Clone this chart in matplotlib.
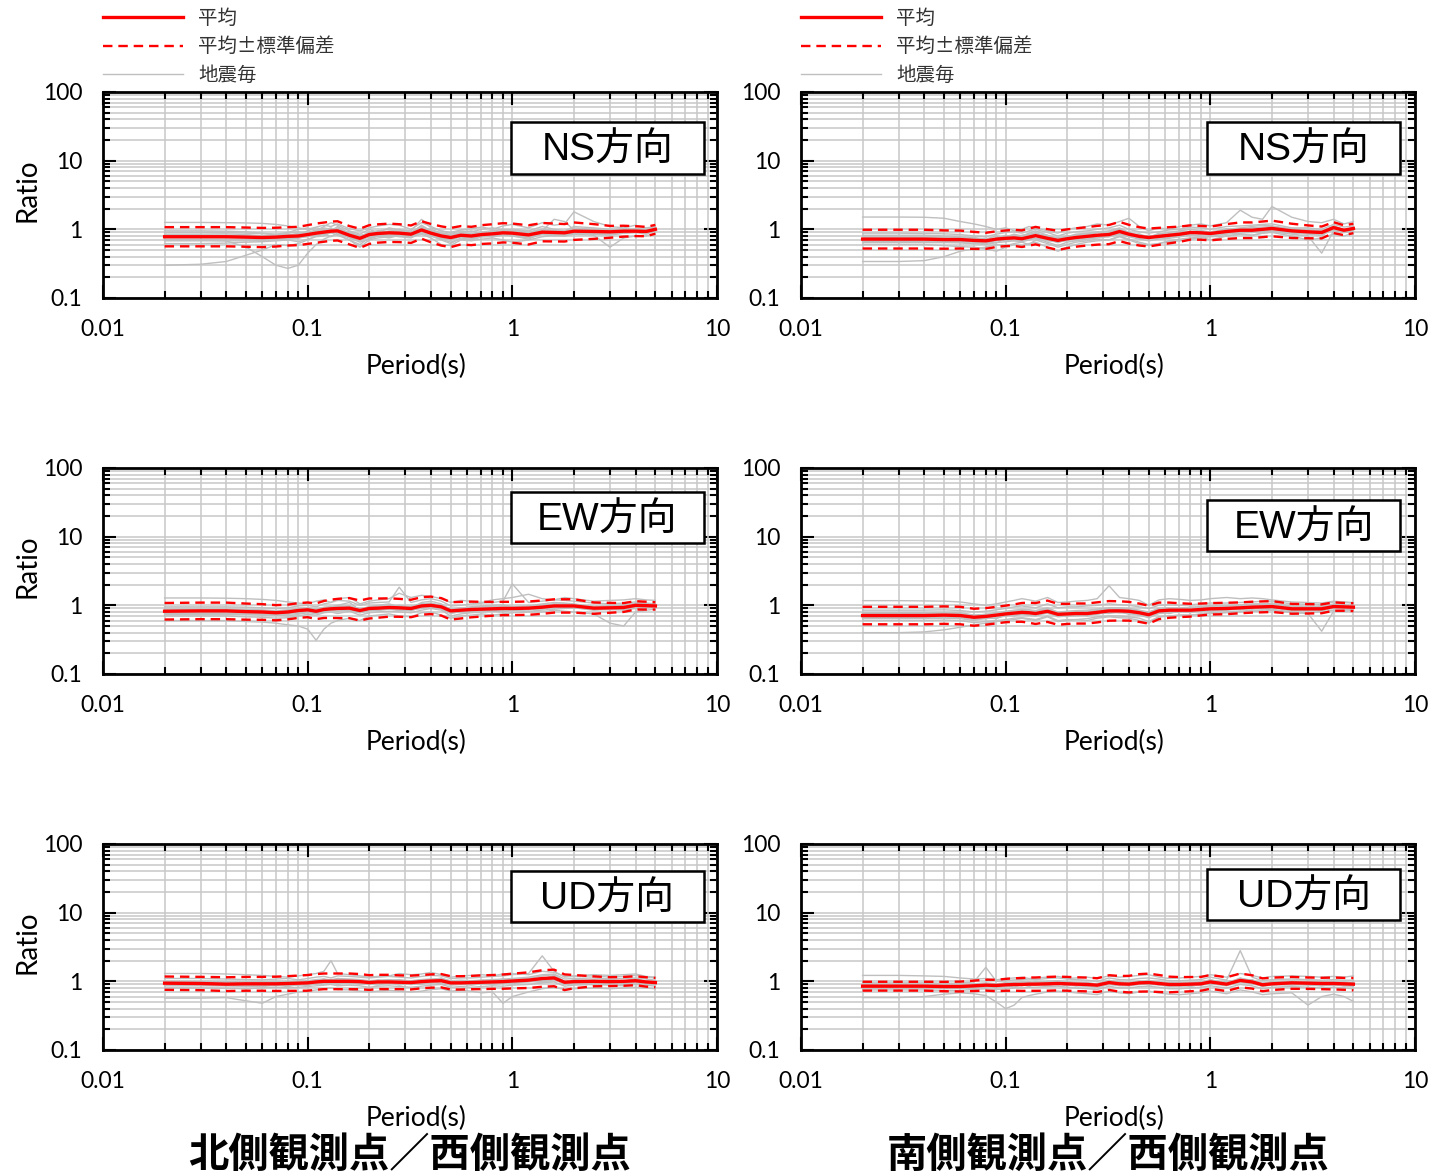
import numpy as np
import matplotlib.pyplot as plt
from matplotlib.lines import Line2D
from matplotlib.patches import Rectangle
from matplotlib.ticker import NullFormatter

plt.rcParams['font.family'] = ['Lato', 'Noto Sans CJK JP']

# 周期 (s)
period = [0.02, 0.03, 0.04, 0.05, 0.06, 0.07, 0.08, 0.09, 0.1, 0.11, 0.12, 0.13, 0.14, 0.16, 0.18, 0.2,
          0.22, 0.25, 0.28, 0.32, 0.36, 0.4, 0.45, 0.5, 0.56, 0.63, 0.71, 0.8, 0.9, 1.0, 1.2, 1.4, 1.6,
          1.8, 2.0, 2.5, 3.0, 3.5, 4.0, 4.5, 5.0]

# ---- 北側観測点／西側観測点 ----
ns_n_mean = [0.78, 0.78, 0.78, 0.77, 0.76, 0.77, 0.79, 0.80, 0.84, 0.88, 0.91, 0.94, 0.95, 0.82, 0.74, 0.84,
             0.87, 0.89, 0.88, 0.85, 0.98, 0.88, 0.80, 0.76, 0.82, 0.80, 0.84, 0.86, 0.89, 0.88, 0.83, 0.91,
             0.90, 0.89, 0.94, 0.93, 0.92, 0.94, 0.94, 0.93, 1.00]
ns_n_sd = [1.38, 1.38, 1.38, 1.38, 1.38, 1.37, 1.36, 1.36, 1.37, 1.38, 1.38, 1.38, 1.38, 1.36, 1.38, 1.37,
           1.36, 1.36, 1.35, 1.34, 1.34, 1.36, 1.38, 1.38, 1.36, 1.36, 1.37, 1.38, 1.38, 1.38, 1.38, 1.36,
           1.35, 1.34, 1.34, 1.28, 1.22, 1.20, 1.18, 1.17, 1.16]
# 地震毎 (%)
ns_n_eq = [
    [126, 126, 125, 124, 122, 118, 112, 105, 100, 108, 115, 110, 120, 102, 95, 105, 112, 118, 115, 100, 125, 110, 95, 90, 98, 102, 108, 100, 112, 118, 105, 125, 115, 120, 180, 130, 110, 105, 115, 105, 110],
    [30, 31, 34, 42, 50, 60, 58, 62, 70, 80, 85, 78, 88, 75, 65, 72, 80, 75, 82, 78, 90, 80, 70, 62, 75, 70, 78, 80, 85, 80, 72, 88, 85, 80, 90, 85, 82, 88, 90, 85, 95],
    [78, 78, 79, 80, 78, 75, 70, 85, 95, 105, 100, 92, 110, 85, 70, 90, 95, 100, 92, 88, 115, 95, 82, 78, 88, 85, 92, 95, 100, 98, 85, 100, 95, 92, 105, 100, 98, 102, 100, 98, 105],
    [70, 70, 68, 55, 40, 30, 27, 30, 45, 60, 72, 80, 85, 70, 60, 75, 80, 82, 78, 75, 90, 82, 72, 65, 72, 72, 78, 78, 82, 80, 75, 85, 80, 82, 88, 85, 85, 88, 90, 90, 95],
    [95, 95, 94, 92, 88, 85, 90, 100, 105, 95, 110, 125, 115, 95, 85, 100, 90, 105, 98, 95, 140, 105, 95, 88, 95, 92, 100, 105, 98, 100, 95, 110, 100, 95, 110, 105, 100, 98, 102, 100, 108],
    [62, 62, 63, 65, 66, 68, 70, 66, 72, 78, 80, 90, 82, 70, 55, 70, 75, 78, 82, 78, 85, 75, 60, 58, 70, 68, 72, 75, 70, 65, 70, 78, 82, 80, 85, 82, 55, 75, 80, 80, 88],
    [85, 85, 86, 84, 80, 82, 88, 92, 88, 95, 105, 100, 98, 92, 80, 88, 95, 92, 100, 90, 105, 100, 88, 85, 90, 95, 85, 92, 95, 100, 90, 95, 140, 130, 98, 90, 95, 100, 98, 95, 102],
    [82, 82, 82, 81, 80, 82, 86, 80, 90, 98, 95, 100, 105, 88, 78, 92, 85, 95, 90, 92, 110, 92, 85, 80, 86, 82, 90, 88, 95, 92, 88, 96, 92, 94, 98, 96, 95, 98, 96, 96, 100],
    [72, 72, 72, 72, 70, 72, 74, 76, 78, 85, 90, 88, 92, 78, 68, 80, 82, 85, 84, 80, 92, 84, 75, 70, 78, 76, 80, 82, 84, 82, 78, 86, 84, 84, 90, 88, 90, 92, 92, 92, 96],
    [90, 90, 90, 88, 86, 84, 82, 88, 84, 92, 98, 105, 92, 88, 82, 84, 92, 88, 95, 85, 100, 95, 88, 82, 88, 86, 90, 95, 92, 96, 92, 100, 96, 96, 100, 98, 96, 98, 98, 96, 104],
    [68, 68, 68, 68, 68, 70, 72, 74, 80, 82, 86, 92, 90, 76, 70, 78, 84, 80, 80, 82, 88, 80, 74, 72, 78, 74, 80, 80, 86, 84, 80, 86, 88, 86, 92, 90, 88, 90, 92, 90, 98],
]

ew_n_mean = [0.82, 0.83, 0.83, 0.81, 0.80, 0.78, 0.80, 0.84, 0.86, 0.82, 0.87, 0.89, 0.90, 0.91, 0.84, 0.90,
             0.91, 0.93, 0.92, 0.90, 0.98, 1.00, 0.95, 0.83, 0.85, 0.87, 0.88, 0.89, 0.90, 0.90, 0.91, 0.94,
             0.98, 0.98, 0.98, 0.91, 0.92, 0.93, 1.00, 0.99, 0.98]
ew_n_sd = [1.32, 1.32, 1.32, 1.31, 1.30, 1.29, 1.28, 1.28, 1.28, 1.30, 1.33, 1.36, 1.38, 1.40, 1.40, 1.40,
           1.38, 1.36, 1.35, 1.34, 1.34, 1.34, 1.34, 1.34, 1.32, 1.30, 1.28, 1.26, 1.25, 1.25, 1.25, 1.25,
           1.25, 1.25, 1.25, 1.21, 1.18, 1.16, 1.15, 1.14, 1.13]
ew_n_eq = [
    [128, 128, 127, 125, 122, 118, 112, 108, 105, 115, 120, 110, 125, 130, 105, 115, 120, 125, 150, 130, 140, 135, 125, 110, 118, 115, 110, 120, 125, 130, 145, 125, 120, 130, 125, 115, 118, 120, 125, 120, 118],
    [60, 60, 60, 58, 57, 55, 52, 50, 45, 31, 45, 55, 60, 65, 60, 70, 72, 75, 70, 68, 78, 80, 72, 65, 70, 72, 75, 72, 75, 78, 80, 80, 85, 82, 80, 75, 55, 50, 80, 85, 88],
    [82, 82, 83, 82, 80, 78, 80, 85, 88, 80, 90, 95, 100, 110, 85, 95, 100, 105, 95, 92, 110, 115, 105, 85, 90, 95, 98, 100, 102, 95, 98, 105, 110, 108, 105, 95, 98, 100, 105, 100, 98],
    [70, 70, 70, 68, 67, 65, 66, 70, 74, 72, 78, 80, 76, 82, 72, 78, 80, 82, 80, 78, 85, 90, 85, 70, 75, 78, 80, 82, 80, 85, 82, 85, 88, 90, 92, 85, 88, 85, 90, 92, 95],
    [95, 95, 95, 94, 92, 90, 92, 98, 100, 95, 105, 110, 118, 115, 100, 108, 110, 112, 184, 110, 120, 125, 115, 98, 100, 105, 108, 110, 115, 205, 110, 115, 120, 118, 115, 108, 105, 108, 112, 108, 105],
    [76, 76, 76, 75, 74, 72, 70, 74, 78, 76, 82, 85, 82, 86, 78, 84, 86, 88, 86, 84, 92, 95, 90, 78, 80, 82, 84, 86, 85, 88, 88, 92, 95, 95, 92, 88, 86, 88, 95, 96, 98],
    [88, 88, 88, 87, 86, 84, 86, 90, 92, 88, 94, 96, 92, 98, 88, 96, 98, 100, 98, 96, 105, 108, 100, 88, 92, 94, 96, 96, 98, 95, 96, 100, 105, 105, 102, 96, 98, 100, 108, 105, 102],
    [84, 84, 84, 82, 82, 80, 84, 88, 84, 86, 92, 88, 95, 98, 84, 94, 90, 98, 94, 96, 102, 100, 102, 82, 88, 86, 92, 90, 95, 90, 96, 94, 104, 98, 102, 92, 96, 94, 104, 98, 100],
    [78, 78, 79, 78, 76, 74, 76, 80, 86, 78, 84, 90, 86, 90, 80, 88, 86, 92, 88, 84, 96, 94, 92, 80, 80, 86, 84, 88, 86, 90, 86, 94, 92, 98, 94, 88, 90, 88, 98, 94, 96],
    [86, 86, 86, 85, 84, 82, 82, 90, 90, 88, 90, 94, 98, 96, 90, 92, 98, 96, 100, 92, 106, 104, 98, 88, 90, 92, 88, 94, 96, 94, 92, 100, 98, 104, 100, 96, 94, 98, 102, 104, 100],
    [74, 74, 74, 74, 72, 72, 74, 76, 82, 76, 82, 84, 88, 84, 78, 86, 84, 88, 84, 86, 90, 96, 88, 76, 82, 80, 86, 82, 88, 84, 88, 88, 96, 92, 96, 86, 90, 88, 96, 94, 96],
]

ud_n_mean = [0.94, 0.93, 0.91, 0.92, 0.92, 0.92, 0.93, 0.94, 0.95, 0.98, 1.00, 1.00, 1.00, 1.00, 0.99, 0.96,
             0.98, 0.98, 0.97, 0.96, 0.99, 1.01, 1.02, 0.95, 0.95, 0.96, 0.97, 0.98, 0.99, 1.01, 1.04, 1.10,
             1.12, 0.97, 0.99, 1.00, 0.99, 1.00, 1.02, 0.98, 0.96]
ud_n_sd = [1.25, 1.25, 1.26, 1.26, 1.26, 1.27, 1.28, 1.29, 1.30, 1.30, 1.30, 1.30, 1.30, 1.30, 1.29, 1.28,
           1.27, 1.27, 1.26, 1.26, 1.25, 1.25, 1.25, 1.25, 1.25, 1.25, 1.26, 1.26, 1.27, 1.28, 1.30, 1.32,
           1.32, 1.30, 1.25, 1.18, 1.16, 1.16, 1.16, 1.17, 1.17]
ud_n_eq = [
    [130, 130, 128, 125, 122, 118, 115, 120, 125, 130, 140, 200, 130, 125, 120, 115, 118, 120, 130, 125, 128, 135, 125, 115, 120, 122, 125, 120, 128, 130, 125, 140, 135, 118, 120, 125, 122, 125, 128, 118, 115],
    [57, 57, 58, 52, 48, 60, 65, 70, 72, 75, 78, 80, 76, 75, 72, 70, 72, 74, 72, 70, 72, 76, 78, 72, 74, 72, 68, 70, 48, 60, 70, 78, 82, 76, 78, 80, 78, 80, 82, 80, 78],
    [94, 94, 92, 90, 92, 95, 92, 90, 95, 100, 105, 100, 108, 105, 102, 98, 100, 102, 100, 98, 102, 105, 108, 98, 100, 98, 100, 102, 104, 108, 110, 120, 125, 100, 102, 105, 100, 102, 105, 100, 98],
    [80, 80, 79, 78, 80, 82, 80, 82, 84, 86, 88, 90, 86, 88, 86, 82, 85, 86, 84, 82, 85, 88, 90, 82, 84, 82, 84, 86, 85, 88, 90, 95, 98, 85, 88, 90, 88, 86, 90, 88, 85],
    [110, 110, 108, 106, 105, 108, 110, 105, 110, 115, 118, 112, 120, 118, 115, 112, 115, 118, 115, 112, 118, 122, 120, 110, 112, 112, 115, 118, 120, 125, 130, 235, 140, 115, 118, 120, 115, 118, 122, 115, 112],
    [88, 88, 87, 85, 86, 88, 86, 88, 90, 92, 95, 96, 94, 95, 94, 90, 92, 94, 92, 90, 94, 96, 98, 90, 92, 90, 92, 94, 95, 96, 98, 105, 108, 94, 96, 98, 96, 95, 98, 95, 92],
    [100, 100, 99, 98, 98, 100, 99, 100, 102, 106, 108, 105, 110, 108, 106, 102, 104, 106, 104, 102, 106, 108, 110, 102, 104, 102, 104, 106, 108, 110, 115, 125, 128, 108, 110, 112, 108, 110, 112, 108, 104],
    [96, 96, 94, 95, 92, 96, 90, 98, 92, 104, 98, 106, 96, 104, 100, 94, 104, 96, 102, 94, 104, 98, 108, 94, 100, 94, 102, 96, 104, 100, 110, 106, 118, 96, 104, 98, 104, 98, 106, 96, 100],
    [90, 90, 89, 88, 90, 86, 92, 88, 96, 90, 100, 94, 102, 92, 98, 90, 96, 92, 98, 90, 98, 94, 102, 90, 94, 90, 96, 92, 100, 96, 104, 100, 112, 90, 98, 94, 98, 94, 100, 92, 94],
    [98, 98, 97, 96, 98, 94, 100, 96, 102, 98, 108, 100, 110, 100, 106, 98, 104, 100, 106, 98, 106, 102, 112, 98, 102, 98, 104, 100, 108, 102, 112, 108, 122, 98, 106, 102, 106, 100, 110, 100, 100],
    [86, 86, 86, 85, 84, 88, 84, 90, 86, 94, 90, 98, 90, 98, 90, 92, 88, 96, 88, 94, 90, 98, 92, 88, 90, 88, 92, 90, 94, 92, 100, 96, 106, 90, 92, 90, 94, 90, 96, 90, 90],
]

# ---- 南側観測点／西側観測点 ----
ns_s_mean = [0.72, 0.72, 0.72, 0.71, 0.71, 0.69, 0.68, 0.72, 0.74, 0.75, 0.73, 0.77, 0.81, 0.74, 0.69, 0.73,
             0.76, 0.79, 0.82, 0.84, 0.93, 0.85, 0.79, 0.76, 0.79, 0.82, 0.85, 0.90, 0.89, 0.87, 0.93, 0.97,
             0.97, 1.00, 1.03, 0.95, 0.92, 0.90, 1.06, 0.97, 1.03]
ns_s_sd = [1.37, 1.37, 1.37, 1.36, 1.35, 1.33, 1.31, 1.30, 1.30, 1.31, 1.32, 1.33, 1.34, 1.36, 1.38, 1.37,
           1.36, 1.36, 1.37, 1.38, 1.38, 1.37, 1.36, 1.35, 1.33, 1.31, 1.29, 1.27, 1.26, 1.26, 1.28, 1.30,
           1.30, 1.30, 1.30, 1.27, 1.24, 1.22, 1.20, 1.18, 1.17]
ns_s_eq = [
    [151, 151, 150, 145, 130, 120, 110, 100, 105, 95, 100, 110, 105, 95, 88, 100, 105, 110, 120, 115, 130, 145, 110, 95, 105, 100, 110, 115, 120, 112, 125, 190, 150, 140, 215, 150, 130, 125, 140, 120, 130],
    [34, 34, 35, 40, 48, 52, 55, 60, 58, 62, 65, 60, 70, 62, 55, 60, 65, 68, 72, 70, 80, 72, 65, 60, 62, 68, 72, 75, 78, 70, 80, 85, 82, 88, 90, 80, 70, 75, 85, 80, 88],
    [72, 72, 72, 70, 68, 65, 62, 70, 78, 85, 80, 88, 95, 82, 70, 78, 85, 88, 92, 95, 105, 90, 80, 72, 85, 90, 95, 100, 95, 92, 100, 105, 110, 115, 112, 100, 95, 80, 110, 95, 100],
    [60, 60, 60, 58, 56, 55, 52, 48, 55, 60, 58, 62, 65, 55, 48, 55, 60, 65, 68, 70, 78, 70, 62, 58, 62, 66, 68, 72, 75, 78, 80, 85, 82, 88, 92, 85, 80, 45, 95, 90, 92],
    [88, 88, 87, 86, 84, 80, 78, 85, 90, 92, 88, 95, 100, 90, 80, 88, 92, 95, 100, 105, 115, 100, 92, 88, 92, 98, 100, 108, 105, 100, 110, 112, 115, 118, 120, 105, 105, 100, 118, 108, 112],
    [66, 66, 66, 65, 64, 62, 60, 64, 66, 68, 66, 70, 74, 65, 58, 65, 68, 72, 75, 78, 85, 78, 72, 68, 72, 74, 78, 82, 80, 80, 85, 88, 90, 92, 95, 88, 85, 82, 100, 90, 98],
    [80, 80, 80, 78, 76, 74, 70, 75, 80, 78, 82, 85, 88, 80, 75, 80, 82, 85, 90, 92, 100, 88, 82, 80, 82, 85, 88, 92, 95, 90, 95, 100, 105, 108, 110, 102, 98, 95, 108, 100, 105],
    [76, 76, 76, 75, 74, 72, 74, 72, 82, 76, 80, 78, 90, 74, 76, 72, 84, 80, 90, 84, 102, 84, 86, 76, 88, 82, 94, 88, 96, 86, 102, 96, 106, 98, 112, 94, 100, 90, 114, 96, 108],
    [68, 68, 68, 67, 66, 66, 62, 70, 68, 74, 68, 76, 74, 72, 64, 72, 70, 78, 76, 82, 86, 84, 74, 76, 74, 80, 80, 88, 84, 86, 86, 96, 90, 100, 94, 94, 86, 92, 98, 96, 96],
    [82, 82, 82, 80, 78, 76, 72, 80, 74, 82, 76, 84, 82, 82, 72, 80, 78, 86, 82, 90, 92, 90, 78, 82, 78, 86, 84, 94, 86, 92, 90, 100, 94, 104, 98, 100, 90, 96, 102, 102, 100],
    [64, 64, 64, 64, 64, 62, 66, 64, 72, 68, 70, 70, 80, 68, 66, 68, 76, 72, 82, 78, 92, 80, 78, 72, 80, 76, 86, 84, 90, 82, 92, 92, 100, 94, 104, 90, 94, 86, 108, 92, 104],
]

ew_s_mean = [0.71, 0.71, 0.71, 0.72, 0.71, 0.67, 0.69, 0.72, 0.75, 0.77, 0.79, 0.78, 0.76, 0.82, 0.74, 0.75,
             0.76, 0.76, 0.79, 0.83, 0.83, 0.82, 0.78, 0.73, 0.83, 0.85, 0.85, 0.85, 0.87, 0.89, 0.90, 0.92,
             0.94, 0.95, 0.96, 0.89, 0.89, 0.89, 0.96, 0.95, 0.94]
ew_s_sd = [1.34, 1.34, 1.34, 1.34, 1.34, 1.33, 1.32, 1.32, 1.32, 1.34, 1.37, 1.40, 1.42, 1.43, 1.42, 1.40,
           1.40, 1.40, 1.40, 1.39, 1.38, 1.37, 1.36, 1.35, 1.32, 1.29, 1.26, 1.24, 1.22, 1.21, 1.21, 1.20,
           1.20, 1.20, 1.20, 1.18, 1.17, 1.16, 1.15, 1.14, 1.14]
ew_s_eq = [
    [117, 117, 116, 115, 112, 105, 100, 105, 112, 118, 125, 120, 115, 130, 110, 112, 115, 118, 125, 193, 130, 125, 118, 100, 120, 125, 122, 118, 120, 125, 130, 125, 128, 125, 120, 112, 110, 108, 115, 112, 110],
    [40, 40, 41, 44, 48, 52, 55, 58, 60, 62, 65, 62, 60, 68, 58, 60, 62, 60, 65, 68, 66, 65, 60, 55, 68, 70, 72, 72, 75, 78, 80, 82, 85, 85, 88, 80, 78, 80, 85, 85, 88],
    [71, 71, 71, 72, 70, 65, 68, 72, 78, 82, 85, 82, 80, 90, 78, 80, 82, 80, 85, 90, 90, 88, 82, 75, 88, 90, 92, 92, 95, 98, 100, 102, 105, 105, 108, 98, 95, 95, 105, 102, 100],
    [60, 60, 60, 61, 60, 56, 58, 60, 62, 65, 66, 64, 62, 70, 60, 62, 62, 64, 68, 70, 70, 68, 65, 58, 68, 70, 72, 72, 74, 76, 78, 80, 82, 82, 85, 78, 76, 42, 82, 82, 84],
    [85, 85, 85, 86, 84, 80, 82, 86, 90, 95, 98, 95, 92, 105, 92, 95, 95, 98, 100, 105, 102, 100, 95, 90, 100, 102, 100, 102, 105, 108, 108, 110, 112, 115, 115, 105, 104, 102, 112, 110, 108],
    [66, 66, 66, 67, 66, 62, 64, 66, 70, 72, 74, 72, 70, 78, 68, 70, 70, 72, 75, 78, 78, 76, 72, 66, 76, 78, 80, 80, 82, 84, 85, 88, 90, 90, 92, 85, 84, 85, 90, 90, 90],
    [78, 78, 78, 79, 78, 72, 74, 78, 82, 85, 88, 86, 84, 92, 80, 82, 84, 85, 88, 92, 92, 90, 85, 80, 90, 92, 92, 94, 96, 98, 98, 100, 102, 104, 104, 96, 96, 95, 102, 100, 98],
    [74, 74, 74, 75, 74, 70, 74, 72, 80, 76, 86, 78, 82, 84, 80, 74, 82, 78, 86, 82, 90, 82, 84, 72, 90, 84, 92, 86, 94, 88, 96, 90, 100, 94, 102, 90, 96, 88, 100, 94, 98],
    [69, 69, 69, 70, 68, 66, 64, 72, 70, 78, 74, 80, 72, 82, 70, 76, 72, 78, 74, 84, 78, 84, 72, 74, 78, 84, 80, 86, 82, 90, 86, 92, 88, 96, 92, 88, 84, 90, 92, 96, 90],
    [76, 76, 76, 77, 76, 72, 72, 78, 78, 84, 82, 86, 80, 90, 76, 82, 78, 84, 82, 90, 86, 90, 80, 80, 86, 92, 86, 94, 90, 96, 92, 98, 96, 102, 98, 96, 92, 98, 98, 100, 96],
    [64, 64, 64, 65, 64, 60, 66, 64, 72, 70, 76, 72, 76, 76, 72, 68, 76, 70, 78, 76, 82, 74, 78, 66, 82, 76, 84, 78, 86, 82, 88, 86, 92, 88, 96, 82, 88, 82, 96, 88, 94],
]

ud_s_mean = [0.85, 0.85, 0.85, 0.84, 0.84, 0.86, 0.88, 0.87, 0.89, 0.90, 0.90, 0.91, 0.91, 0.92, 0.93, 0.92,
             0.91, 0.90, 0.88, 0.96, 0.92, 0.91, 0.95, 0.96, 0.93, 0.90, 0.90, 0.91, 0.92, 0.98, 0.91, 1.03,
             0.98, 0.89, 0.92, 0.95, 0.94, 0.93, 0.93, 0.92, 0.91]
ud_s_sd = [1.16, 1.16, 1.16, 1.17, 1.18, 1.19, 1.20, 1.21, 1.22, 1.23, 1.24, 1.25, 1.25, 1.26, 1.26, 1.26,
           1.26, 1.26, 1.26, 1.28, 1.30, 1.32, 1.34, 1.35, 1.33, 1.30, 1.28, 1.27, 1.26, 1.26, 1.26, 1.26,
           1.25, 1.24, 1.23, 1.22, 1.21, 1.21, 1.22, 1.22, 1.23]
ud_s_eq = [
    [122, 122, 120, 118, 112, 108, 110, 105, 110, 112, 115, 110, 112, 115, 118, 110, 112, 115, 110, 120, 115, 118, 122, 125, 115, 110, 112, 115, 118, 125, 115, 130, 122, 112, 118, 120, 118, 115, 118, 115, 120],
    [58, 58, 60, 65, 68, 66, 62, 50, 40, 45, 58, 62, 65, 70, 72, 70, 68, 66, 64, 72, 68, 66, 70, 72, 68, 65, 64, 66, 68, 72, 66, 75, 70, 64, 66, 68, 45, 60, 65, 60, 51],
    [85, 85, 85, 84, 84, 88, 92, 90, 92, 94, 95, 96, 95, 98, 100, 96, 94, 92, 90, 100, 95, 94, 98, 100, 96, 92, 92, 94, 96, 102, 94, 108, 102, 92, 96, 98, 96, 95, 96, 95, 94],
    [75, 75, 75, 74, 74, 76, 78, 76, 78, 80, 80, 82, 82, 84, 85, 82, 80, 78, 76, 85, 80, 80, 84, 85, 82, 78, 78, 80, 82, 86, 80, 90, 86, 78, 82, 84, 82, 80, 82, 80, 78],
    [95, 95, 95, 94, 94, 98, 160, 100, 102, 105, 106, 108, 106, 110, 112, 108, 106, 104, 100, 112, 106, 105, 110, 112, 108, 102, 102, 104, 106, 115, 104, 280, 115, 102, 106, 108, 106, 104, 106, 104, 104],
    [80, 80, 80, 79, 79, 82, 84, 82, 84, 86, 87, 88, 88, 90, 92, 88, 86, 85, 82, 90, 86, 86, 90, 92, 88, 85, 85, 86, 88, 92, 86, 98, 92, 85, 88, 90, 88, 86, 88, 86, 85],
    [90, 90, 90, 89, 89, 92, 95, 92, 95, 96, 97, 98, 97, 100, 102, 98, 96, 95, 92, 102, 98, 96, 100, 102, 98, 95, 95, 96, 98, 104, 96, 110, 104, 94, 98, 100, 98, 96, 98, 96, 95],
    [87, 87, 87, 86, 88, 84, 92, 86, 96, 88, 98, 90, 100, 90, 98, 90, 96, 88, 94, 96, 100, 90, 102, 94, 100, 88, 96, 88, 98, 96, 100, 104, 106, 88, 100, 94, 100, 92, 98, 92, 96],
    [82, 82, 82, 81, 80, 84, 82, 88, 84, 90, 86, 94, 88, 94, 88, 96, 86, 92, 84, 98, 88, 94, 90, 100, 88, 94, 86, 92, 88, 100, 88, 104, 94, 90, 88, 98, 90, 96, 90, 94, 88],
    [88, 88, 88, 87, 86, 90, 88, 92, 90, 94, 92, 96, 94, 98, 94, 100, 92, 96, 90, 104, 94, 96, 98, 104, 94, 96, 92, 94, 96, 106, 92, 112, 100, 94, 96, 100, 96, 98, 96, 98, 94],
    [80, 80, 80, 79, 80, 78, 86, 80, 88, 82, 90, 84, 92, 86, 92, 86, 90, 84, 88, 90, 94, 86, 96, 88, 92, 84, 90, 84, 92, 90, 92, 98, 98, 84, 92, 88, 92, 86, 92, 86, 88],
]

comp_labels = ['NS方向', 'EW方向', 'UD方向']
site_titles = ['北側観測点／西側観測点', '南側観測点／西側観測点']
legend_labels = ['平均', '平均±標準偏差', '地震毎']
xtick_vals = [0.01, 0.1, 1, 10]
xtick_text = ['0.01', '0.1', '1', '10']
ytick_vals = [0.1, 1, 10, 100]
ytick_text = ['0.1', '1', '10', '100']

panels = [
    [(ns_n_mean, ns_n_sd, ns_n_eq), (ew_n_mean, ew_n_sd, ew_n_eq), (ud_n_mean, ud_n_sd, ud_n_eq)],
    [(ns_s_mean, ns_s_sd, ns_s_eq), (ew_s_mean, ew_s_sd, ew_s_eq), (ud_s_mean, ud_s_sd, ud_s_eq)],
]

W, H = 1429, 1174
fig = plt.figure(figsize=(W / 100, H / 100), dpi=100)

# レイアウト (pixel)
col_x = [103, 801]
row_top = [92, 468, 844]
ax_w, ax_h = 614, 206
box_x = [(0.664, 0.979), (0.661, 0.976)]
box_y = [[(0.602, 0.854), (0.638, 0.884), (0.623, 0.870)],
         [(0.604, 0.855), (0.599, 0.845), (0.633, 0.879)]]

grey = '#bfbfbf'
dash = (0, (4, 2.5))

for c in range(2):
    for r in range(3):
        mean, sd, eq = panels[c][r]
        mean = np.array(mean)
        sd = np.array(sd)
        ax = fig.add_axes([col_x[c] / W, 1 - (row_top[r] + ax_h) / H, ax_w / W, ax_h / H])
        ax.set_xscale('log')
        ax.set_yscale('log')

        for line in eq:
            ax.plot(period, np.array(line) / 100, color=grey, lw=1.0, zorder=2)
        ax.plot(period, mean * sd, color='red', lw=1.7, linestyle=dash, zorder=3)
        ax.plot(period, mean / sd, color='red', lw=1.7, linestyle=dash, zorder=3)
        ax.plot(period, mean, color='red', lw=2.4, zorder=4)

        ax.set_xlim(0.01, 10)
        ax.set_ylim(0.1, 100)
        ax.set_xticks(xtick_vals, xtick_text)
        ax.set_yticks(ytick_vals, ytick_text)
        ax.xaxis.set_minor_formatter(NullFormatter())
        ax.yaxis.set_minor_formatter(NullFormatter())
        ax.grid(True, which='both', color='#c8c8c8', lw=1.1)
        ax.set_axisbelow(True)
        # x軸の目盛りが横の補助線に隠れないように
        ax.xaxis.set_zorder(0.6)
        ax.tick_params(which='both', direction='in', top=True, right=True, width=1.5, colors='black')
        ax.tick_params(which='major', length=9.5, labelsize=16.5)
        ax.tick_params(axis='x', which='major', pad=15)
        ax.tick_params(axis='y', which='major', pad=15)
        ax.tick_params(which='minor', length=5)
        for s in ax.spines.values():
            s.set_linewidth(2)

        ax.set_xlabel('Period(s)', fontsize=19)
        ax.xaxis.set_label_coords(0.51, -0.27)

        # 成分ラベル
        x0, x1 = box_x[c]
        y0, y1 = box_y[c][r]
        ax.add_patch(Rectangle((x0, y0), x1 - x0, y1 - y0, transform=ax.transAxes,
                               facecolor='white', edgecolor='black', lw=1.8, zorder=5))
        ax.text((x0 + x1) / 2, (y0 + y1) / 2 - 0.015, comp_labels[r], transform=ax.transAxes,
                ha='center', va='center', fontsize=28, zorder=6,
                family=['Liberation Sans', 'Noto Sans CJK JP'])

        if c == 0:
            fig.text(27 / W, 1 - (row_top[r] + 98) / H, 'Ratio', rotation=90,
                     ha='center', va='center', fontsize=20)

    # 凡例
    handles = [Line2D([], [], color='red', lw=2.4),
               Line2D([], [], color='red', lw=1.7, linestyle=dash),
               Line2D([], [], color=grey, lw=1.0)]
    fig.legend(handles, legend_labels, loc='upper left',
               bbox_to_anchor=(col_x[c] / W, 1 - 8 / H), frameon=False,
               borderpad=0, borderaxespad=0, handlelength=4.1, handletextpad=0.8,
               labelspacing=0.38, prop={'family': 'Noto Sans CJK JP', 'size': 14},
               labelcolor='#333333')

    fig.text((col_x[c] + 307) / W, 1 - 1155 / H, site_titles[c], ha='center', va='center',
             fontsize=29, fontweight='bold', family='Noto Sans CJK JP')

fig.savefig('out.png', dpi=100)
